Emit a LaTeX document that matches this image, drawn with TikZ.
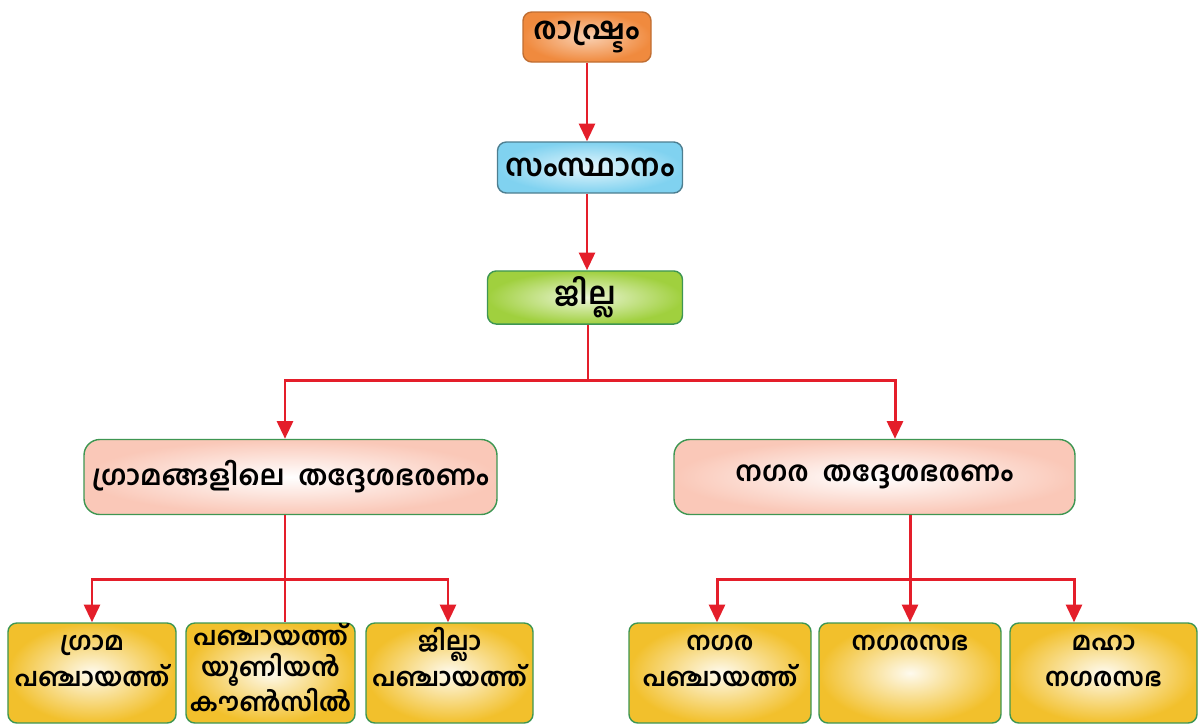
\documentclass[tikz,border=0pt]{standalone}
\usepackage{fontspec}
\newfontfamily\mlfont[Script=Malayalam]{Hind Kochi}
\usetikzlibrary{arrows.meta}

\definecolor{arrowred}{RGB}{228,30,42}
\definecolor{boxorange}{RGB}{240,138,62}
\definecolor{boxblue}{RGB}{128,210,240}
\definecolor{boxgreen}{RGB}{160,208,62}
\definecolor{boxpink}{RGB}{250,200,184}
\definecolor{boxgold}{RGB}{242,192,44}
\definecolor{edgegreen}{RGB}{62,150,82}

\newcommand{\leaftext}[1]{\parbox[t]{3.3cm}{\centering #1}}

\begin{document}
\begin{tikzpicture}[>={Triangle[length=10pt,width=9pt]},
                    line width=1.7pt,draw=arrowred,
                    box/.style={rectangle,rounded corners=5pt,line width=0.8pt,
                                font=\mlfont\bfseries\fontsize{17.5}{21}\selectfont},
                    top node/.style={box,draw=boxorange!80!black,inner color=boxorange!40!white,
                                     outer color=boxorange,minimum width=2.56cm,minimum height=1cm},
                    state node/.style={box,draw=boxblue!60!black,inner color=boxblue!20!white,
                                       outer color=boxblue,minimum width=3.7cm,minimum height=1.02cm},
                    district node/.style={box,draw=edgegreen,inner color=boxgreen!20!white,
                                          outer color=boxgreen,minimum width=3.9cm,minimum height=1.02cm},
                    local node/.style={box,draw=edgegreen,inner color=white,outer color=boxpink,
                                       minimum height=1.5cm,rounded corners=9pt,
                                       font=\mlfont\bfseries\fontsize{15.8}{19}\selectfont},
                    leaf node/.style={box,draw=edgegreen,inner color=boxgold!8!white,outer color=boxgold,
                                      inner xsep=0pt,inner ysep=0pt,text height=0.54cm,text depth=1.46cm,
                                      font=\mlfont\bfseries\fontsize{14.5}{20.5}\selectfont}]

  \useasboundingbox (0,0) rectangle (23.98,-14.54);

  \node[top node] (rashtram) at (11.74,-0.74) {രാഷ്ട്രം};
  \node[state node] (samsthanam) at (11.80,-3.35) {സംസ്ഥാനം};
  \node[district node] (jilla) at (11.70,-5.95) {ജില്ല};

  \node[local node,minimum width=8.26cm] (grama) at (5.81,-9.54) {ഗ്രാമങ്ങളിലെ\ \ തദ്ദേശഭരണം};
  \node[local node,minimum width=8.02cm] (nagara) at (17.49,-9.54) {നഗര\ \ തദ്ദേശഭരണം};

  \node[leaf node,minimum width=3.36cm] (gp) at (1.84,-13.46) {\leaftext{ഗ്രാമ\\പഞ്ചായത്ത്}};
  \node[leaf node,minimum width=3.38cm,text height=0.45cm,text depth=1.55cm,
        font=\mlfont\bfseries\fontsize{14.5}{17.5}\selectfont] (union) at (5.41,-13.46)
        {\leaftext{പഞ്ചായത്ത്\\യൂണിയൻ\\കൗൺസിൽ}};
  \node[leaf node,minimum width=3.34cm] (jp) at (8.99,-13.46) {\leaftext{ജില്ലാ\\പഞ്ചായത്ത്}};
  \node[leaf node,minimum width=3.64cm] (np) at (14.40,-13.46) {\leaftext{നഗര\\പഞ്ചായത്ത്}};
  \node[leaf node,minimum width=3.64cm] (nsabha) at (18.20,-13.46) {\leaftext{നഗരസഭ}};
  \node[leaf node,minimum width=3.74cm] (mahanagara) at (22.07,-13.46) {\leaftext{മഹാ\\നഗരസഭ}};

  \coordinate (split) at (11.76,-7.6);
  \coordinate (gsplit) at (5.70,-11.58);
  \coordinate (nsplit) at (18.20,-11.58);

  \draw[->] (rashtram) -- (rashtram |- samsthanam.north);
  \draw[->] (samsthanam.south -| rashtram) -- (rashtram |- jilla.north);
  \draw (jilla.south -| split) -- (split);
  \draw[->] (split) -| ([xshift=-0.11cm]grama.north);
  \draw[->] (split) -| ([xshift=0.41cm]nagara.north);

  \draw (grama.south -| gsplit) -- (union.north -| gsplit); % no tip here
  \draw[->] (gsplit) -| (gp.north);
  \draw[->] (gsplit) -| ([xshift=-0.03cm]jp.north);

  \draw[->] (nagara.south -| nsplit) -- (nsabha.north);
  \draw[->] (nsplit) -| ([xshift=-0.06cm]np.north);
  \draw[->] (nsplit) -| ([xshift=-0.59cm]mahanagara.north);

\end{tikzpicture}
\end{document}
